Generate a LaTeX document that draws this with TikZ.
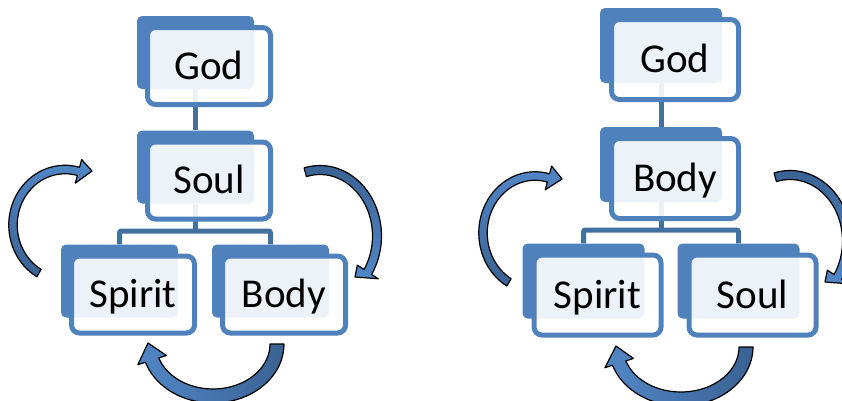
\documentclass[tikz,border=0pt]{standalone}
\usepackage{fontspec}
\setmainfont{Carlito}
\usetikzlibrary{calc}
\definecolor{boxblue}{HTML}{4F81BD}
\definecolor{linkblue}{HTML}{43719F}
\definecolor{arrlight}{HTML}{5187C6}
\definecolor{arrdark}{HTML}{3A6293}
\pgfdeclarelayer{bg}
\pgfsetlayers{bg,main}
\def\arrowhx{8}
% curved block arrow: style, cx, cy, rx, ry, band width, start angle, end angle, tip
\newcommand\carrow[9]{%
  \shadedraw[arrowshape,#1]
    plot[domain=#7:#8,samples=40,variable=\t]
      ({#2+(#4+#6/2)*cos(\t)},{#3+(#5+#6/2)*sin(\t)})
    -- ({#2+(#4+#6/2+\arrowhx)*cos(#8)},{#3+(#5+#6/2+\arrowhx)*sin(#8)})
    -- (#9)
    -- ({#2+(#4-#6/2-\arrowhx)*cos(#8)},{#3+(#5-#6/2-\arrowhx)*sin(#8)})
    -- plot[domain=#7:#8,samples=40,variable=\t]
      ({#2+(#4-#6/2)*cos(#7+#8-\t)},{#3+(#5-#6/2)*sin(#7+#8-\t)})
    -- cycle;}
\tikzset{
  backbox/.style={fill=boxblue, rounded corners=5pt, inner sep=0pt},
  backL/.style={backbox, minimum width=117pt, minimum height=73pt},
  backR/.style={backbox, minimum width=122pt, minimum height=75pt},
  frontbox/.style={draw=boxblue, line width=5pt, fill=white, fill opacity=0.9,
    text opacity=1, rounded corners=8pt, inner sep=0pt,
    font=\fontsize{41pt}{45pt}\selectfont, text height=30pt, text depth=4pt},
  frontL/.style={frontbox, minimum width=123pt, minimum height=77pt},
  frontR/.style={frontbox, minimum width=127pt, minimum height=80pt},
  link/.style={draw=linkblue, line width=5pt, rounded corners=2pt},
  arrowshape/.style={draw=black, line width=1.2pt, line join=round},
}
\begin{document}
\begin{tikzpicture}[x=1pt,y=-1pt]
\useasboundingbox (0,0) rectangle (842,400);
\clip (0,0) rectangle (842,400);
% ---------- left diagram ----------
\node[backL] (godLb) at (195.5,52.5) {};
\node[frontL] (godL) at ($(godLb)+(13.5,13.5)$) {God};
\node[backL] (soulLb) at (195.5,167) {};
\node[frontL] (soulL) at ($(soulLb)+(13.5,13.5)$) {Soul};
\node[backL] (spiritLb) at (119.5,281) {};
\node[frontL] (spiritL) at ($(spiritLb)+(13.5,13.5)$) {Spirit};
\node[backL] (bodyLb) at (270.5,281) {};
\node[frontL] (bodyL) at ($(bodyLb)+(13.5,13.5)$) {Body};
\coordinate (brL) at (195.5,231);
\begin{pgfonlayer}{bg}
  \draw[link] (godLb.south) -- (soulLb.north);
  \draw[link] (soulLb.south) -- (brL);
  \draw[link] (spiritLb.north) |- (brL) -| (bodyLb.north);
\end{pgfonlayer}
\carrow{bottom color=arrdark, top color=arrlight}{65}{225}{52}{55.5}{8.5}{120}{285}{92,171}
\carrow{top color=arrdark, bottom color=arrlight}{320}{236}{57}{66}{9}{255}{393}{355,277}
\carrow{right color=arrdark, left color=arrlight}{213}{344}{64}{52}{14}{0}{162}{148,343}
% ---------- right diagram ----------
\node[backR] (godRb) at (661,45.5) {};
\node[frontR] (godR) at ($(godRb)+(14,14)$) {God};
\node[backR] (bodyRb) at (661,164.5) {};
\node[frontR] (bodyR) at ($(bodyRb)+(14,14)$) {Body};
\node[backR] (spiritRb) at (583.5,281) {};
\node[frontR] (spiritR) at ($(spiritRb)+(14,14)$) {Spirit};
\node[backR] (soulRb) at (738.5,281) {};
\node[frontR] (soulR) at ($(soulRb)+(14,14)$) {Soul};
\coordinate (brR) at (661,230);
\begin{pgfonlayer}{bg}
  \draw[link] (godRb.south) -- (bodyRb.north);
  \draw[link] (bodyRb.south) -- (brR);
  \draw[link] (spiritRb.north) |- (brR) -| (soulRb.north);
\end{pgfonlayer}
\begin{scope}[shift={(470,8)}]
\carrow{bottom color=arrdark, top color=arrlight}{65}{225}{52}{57}{8.5}{120}{285}{92,171}
\end{scope}
\begin{scope}[shift={(470,5)}]
\carrow{top color=arrdark, bottom color=arrlight}{320}{236}{57}{66}{9}{255}{393}{355,277}
\end{scope}
\begin{scope}[shift={(468,3)}]
\carrow{right color=arrdark, left color=arrlight}{213}{344}{65}{52}{14}{0}{162}{148,343}
\end{scope}
\end{tikzpicture}
\end{document}
